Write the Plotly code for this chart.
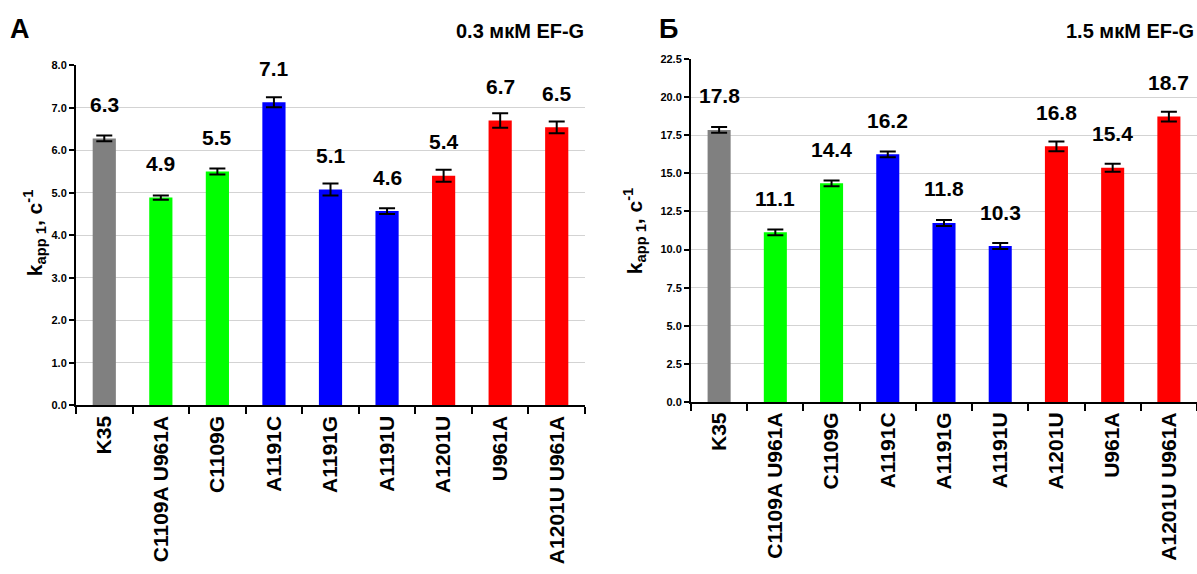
import plotly.graph_objects as go

categories = ["K35", "C1109A U961A", "C1109G", "A1191C", "A1191G", "A1191U",
              "A1201U", "U961A", "A1201U U961A"]
colors = ["#808080", "#00ff00", "#00ff00", "#0000ff", "#0000ff", "#0000ff",
          "#ff0000", "#ff0000", "#ff0000"]

# Panel A: 0.3 мкМ EF-G
values_a = [6.28, 4.89, 5.50, 7.13, 5.08, 4.57, 5.40, 6.70, 6.54]
errors_a = [0.07, 0.05, 0.07, 0.12, 0.14, 0.07, 0.14, 0.17, 0.14]
labels_a = ["6.3", "4.9", "5.5", "7.1", "5.1", "4.6", "5.4", "6.7", "6.5"]

# Panel Б: 1.5 мкМ EF-G
values_b = [17.84, 11.13, 14.34, 16.24, 11.74, 10.23, 16.77, 15.36, 18.72]
errors_b = [0.19, 0.19, 0.19, 0.19, 0.19, 0.2, 0.32, 0.26, 0.32]
labels_b = ["17.8", "11.1", "14.4", "16.2", "11.8", "10.3", "16.8", "15.4", "18.7"]

FONT = "Liberation Sans, Arial, sans-serif"
W, H = 1197, 574

fig = go.Figure()

fig.add_trace(go.Bar(x=categories, y=values_a, marker=dict(color=colors, line=dict(width=0)),
                     width=0.41,
                     error_y=dict(type="data", array=errors_a, color="black", thickness=2, width=8),
                     xaxis="x", yaxis="y", showlegend=False))
fig.add_trace(go.Bar(x=categories, y=values_b, marker=dict(color=colors, line=dict(width=0)),
                     width=0.41,
                     error_y=dict(type="data", array=errors_b, color="black", thickness=2, width=8),
                     xaxis="x2", yaxis="y2", showlegend=False))

def px_x(p):
    return p / W

def px_y(p):
    return (H - p) / H

xcommon = dict(type="category", showline=True, linecolor="black", linewidth=2,
               ticks="outside", tickson="boundaries", ticklen=7, tickwidth=2, tickcolor="black",
               tickangle=-90, tickfont=dict(family=FONT, size=21, color="black", weight="bold"),
               showgrid=False, fixedrange=True)
ycommon = dict(showline=True, linecolor="black", linewidth=2, ticks="outside", ticklen=5,
               tickwidth=2, tickcolor="black", tickformat=".1f",
               tickfont=dict(family=FONT, size=11, color="black", weight="bold"),
               showgrid=True, gridcolor="#d3d3d3", gridwidth=1, zeroline=False)

fig.update_layout(
    width=W, height=H,
    margin=dict(l=0, r=0, t=0, b=0),
    paper_bgcolor="white", plot_bgcolor="white",
    bargap=0.59,
    xaxis=dict(domain=[px_x(76), px_x(585)], anchor="y", **xcommon),
    yaxis=dict(domain=[px_y(408), px_y(60.5)], anchor="x", range=[0, 8], dtick=1, **ycommon),
    xaxis2=dict(domain=[px_x(691), px_x(1197)], anchor="y2", **xcommon),
    yaxis2=dict(domain=[px_y(404.5), px_y(54)], anchor="x2", range=[0, 22.5], dtick=2.5, **ycommon),
)

annotations = []
for c, v, t in zip(categories, values_a, labels_a):
    annotations.append(dict(x=c, y=v, xref="x", yref="y", text=t, showarrow=False,
                            yshift=34, yanchor="middle",
                            font=dict(family=FONT, size=21, color="black", weight="bold")))
for c, v, t in zip(categories, values_b, labels_b):
    annotations.append(dict(x=c, y=v, xref="x2", yref="y2", text=t, showarrow=False,
                            yshift=34, yanchor="middle",
                            font=dict(family=FONT, size=21, color="black", weight="bold")))

# panel letters and titles
annotations += [
    dict(x=px_x(8), y=px_y(24), xref="paper", yref="paper", text="А", showarrow=False,
         xanchor="left", yanchor="middle", font=dict(family=FONT, size=27, color="black", weight="bold")),
    dict(x=px_x(657), y=px_y(24), xref="paper", yref="paper", text="Б", showarrow=False,
         xanchor="left", yanchor="middle", font=dict(family=FONT, size=27, color="black", weight="bold")),
    dict(x=px_x(586), y=px_y(26), xref="paper", yref="paper", text="0.3 мкМ EF-G", showarrow=False,
         xanchor="right", yanchor="middle", font=dict(family=FONT, size=20, color="black", weight="bold")),
    dict(x=px_x(1196), y=px_y(26), xref="paper", yref="paper", text="1.5 мкМ EF-G", showarrow=False,
         xanchor="right", yanchor="middle", font=dict(family=FONT, size=20, color="black", weight="bold")),
    dict(x=px_x(34), y=px_y(232), xref="paper", yref="paper",
         text="k<sub>app 1</sub>, с<sup>-1</sup>", textangle=-90, showarrow=False,
         xanchor="center", yanchor="middle", font=dict(family=FONT, size=21, color="black", weight="bold")),
    dict(x=px_x(634), y=px_y(230), xref="paper", yref="paper",
         text="k<sub>app 1</sub>, с<sup>-1</sup>", textangle=-90, showarrow=False,
         xanchor="center", yanchor="middle", font=dict(family=FONT, size=21, color="black", weight="bold")),
]
fig.update_layout(annotations=annotations)

fig.write_html("out.html", config={"displayModeBar": False},
               post_script="document.body.style.margin='0';document.body.style.overflow='hidden';")
